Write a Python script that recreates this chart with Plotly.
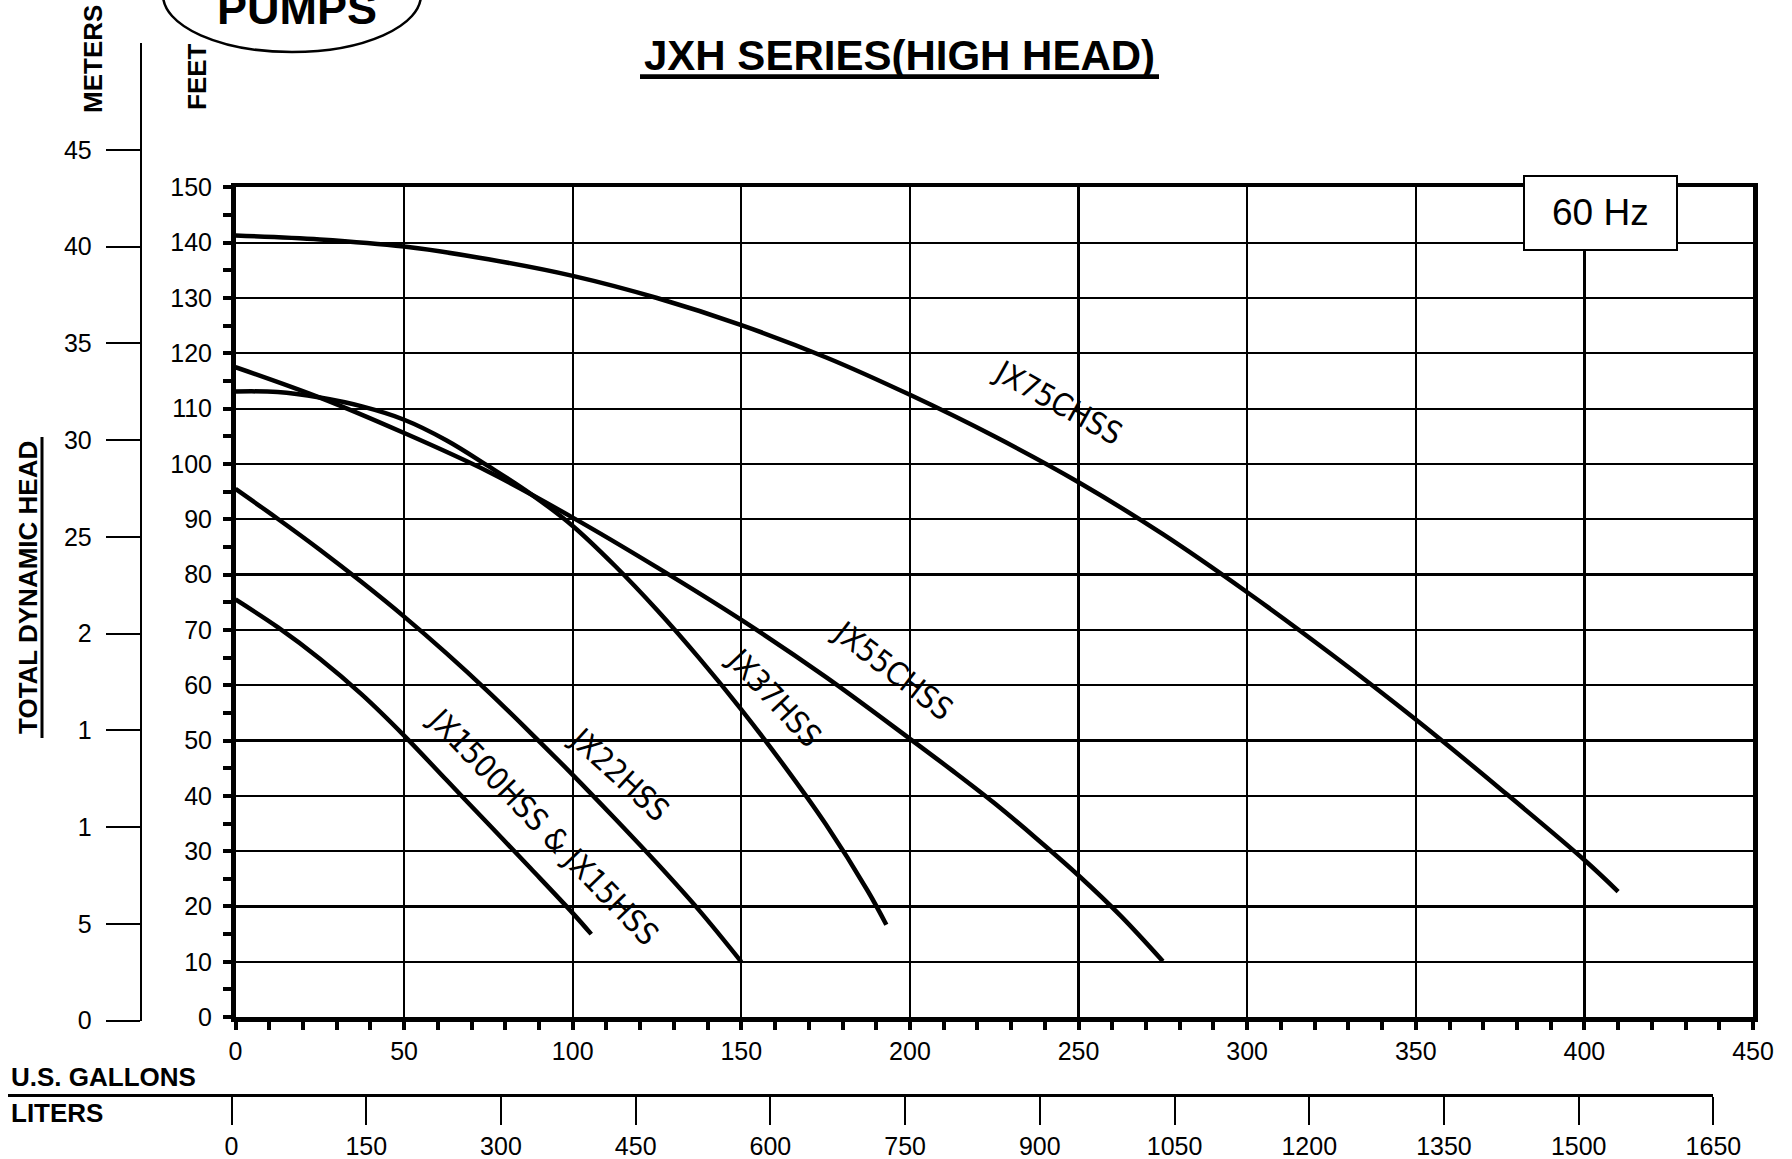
import plotly.graph_objects as go

W, H = 1792, 1159

# ---------------- data (U.S. gallons per minute vs. feet of head) ----------------
jx75_gpm = [0, 25, 50, 75, 100, 125, 150, 175, 200, 225, 250, 275, 300, 325, 350, 375, 400, 410]
jx75_ft = [141.3, 140.6, 139.3, 137.0, 134.0, 130.0, 125.1, 119.3, 112.5, 105.0, 96.7, 87.3, 76.8, 65.6, 53.8, 41.3, 28.4, 22.7]

jx55_gpm = [0, 25, 50, 75, 100, 125, 150, 175, 200, 212.5, 225, 237.5, 250, 262.5, 275]
jx55_ft = [117.5, 112.0, 105.6, 98.6, 90.3, 81.3, 71.8, 61.5, 50.3, 44.6, 38.7, 32.3, 25.6, 18.3, 10.1]

jx37_gpm = [0, 12.5, 25, 37.5, 50, 62.5, 75, 87.5, 100, 112.5, 125, 137.5, 150, 162.5, 175, 187.5, 193]
jx37_ft = [113.1, 113.0, 112.0, 110.4, 108.0, 104.3, 99.6, 94.6, 88.8, 81.6, 73.6, 64.9, 55.6, 45.6, 34.9, 22.8, 16.7]

jx22_gpm = [0, 12.5, 25, 37.5, 50, 62.5, 75, 87.5, 100, 112.5, 125, 137.5, 150]
jx22_ft = [95.5, 90.1, 84.5, 78.6, 72.4, 65.8, 58.8, 51.4, 43.8, 35.9, 27.8, 19.3, 10.0]

jx15_gpm = [0, 12.5, 25, 37.5, 50, 62.5, 75, 87.5, 100, 105.5]
jx15_ft = [75.5, 70.5, 64.8, 58.3, 50.9, 42.9, 34.9, 26.9, 18.8, 15.0]

series_names = ["JX75CHSS", "JX55CHSS", "JX37HSS", "JX22HSS", "JX1500HSS & JX15HSS"]

gallon_range = [0, 450]
feet_range = [0, 150]
meter_ticks = [0, 5, 10, 15, 20, 25, 30, 35, 40, 45]
meter_labels = ["0", "5", "1", "1", "2", "25", "30", "35", "40", "45"]
liter_ticks = [0, 150, 300, 450, 600, 750, 900, 1050, 1200, 1350, 1500, 1650]


def px(x):
    return x / W


def py(y):
    return 1 - y / H


FONT = "Liberation Sans, Arial, sans-serif"
NARROW = "Liberation Sans Narrow, Arial Narrow, DejaVu Sans Condensed, sans-serif"

fig = go.Figure()

curves = [
    (jx75_gpm, jx75_ft),
    (jx55_gpm, jx55_ft),
    (jx37_gpm, jx37_ft),
    (jx22_gpm, jx22_ft),
    (jx15_gpm, jx15_ft),
]
for name, (gx, fy) in zip(series_names, curves):
    fig.add_trace(go.Scatter(
        x=gx, y=fy, name=name, mode="lines", xaxis="x", yaxis="y",
        line=dict(color="black", width=4.5, shape="spline", smoothing=1.0),
        hoverinfo="skip", showlegend=False,
    ))

# invisible helper traces so the meters and liters scales are drawn
fig.add_trace(go.Scatter(
    x=[0, 0], y=[meter_ticks[0], meter_ticks[-1]], xaxis="x3", yaxis="y2",
    mode="markers", marker=dict(opacity=0), hoverinfo="skip", showlegend=False,
))
fig.add_trace(go.Scatter(
    x=[liter_ticks[0], liter_ticks[-1]], y=[0, 0], xaxis="x2", yaxis="y3",
    mode="markers", marker=dict(opacity=0), hoverinfo="skip", showlegend=False,
))

tickfont = dict(family=FONT, size=25, color="black")

fig.update_layout(
    width=W, height=H,
    margin=dict(l=0, r=0, t=0, b=0, pad=0),
    paper_bgcolor="white", plot_bgcolor="white",
    showlegend=False,
    xaxis=dict(
        domain=[px(235.5), px(1753)], range=gallon_range, anchor="y",
        tickmode="linear", tick0=0, dtick=50,
        ticks="outside", ticklen=8, tickwidth=4, tickcolor="black",
        minor=dict(tickmode="linear", tick0=0, dtick=10, ticks="outside", ticklen=8, tickwidth=4,
                   tickcolor="black", showgrid=False),
        showgrid=True, gridcolor="black", gridwidth=2.3,
        showline=True, linecolor="black", linewidth=4.5, mirror=True,
        zeroline=False, tickfont=tickfont,
        automargin=False, fixedrange=True,
    ),
    yaxis=dict(
        domain=[py(1017.1), py(187.4)], range=feet_range, anchor="x",
        tickmode="linear", tick0=0, dtick=10,
        ticks="outside", ticklen=8, tickwidth=4, tickcolor="black",
        minor=dict(tickmode="linear", tick0=0, dtick=5, ticks="outside", ticklen=8, tickwidth=4,
                   tickcolor="black", showgrid=False),
        showgrid=True, gridcolor="black", gridwidth=2.3,
        showline=True, linecolor="black", linewidth=4.5, mirror=True,
        zeroline=False, tickfont=tickfont, ticklabelstandoff=6,
        automargin=False, fixedrange=True,
    ),
    # meters scale
    yaxis2=dict(
        domain=[py(1020.6), py(43.4)], range=[0, 50.5], anchor="x3", side="left",
        tickmode="array", tickvals=meter_ticks, ticktext=meter_labels,
        ticks="outside", ticklen=34, tickwidth=2, tickcolor="black",
        showgrid=False, showline=True, linecolor="black", linewidth=2,
        zeroline=False, tickfont=tickfont, ticklabelstandoff=9,
        automargin=False, fixedrange=True,
    ),
    xaxis3=dict(domain=[px(141.7), px(142.7)], range=[0, 1], anchor="y2", visible=False, fixedrange=True),
    # liters scale
    xaxis2=dict(
        domain=[px(8), px(1713.4)], range=[-248.9, 1650], anchor="y3", side="bottom",
        tickmode="array", tickvals=liter_ticks,
        ticks="outside", ticklen=28, tickwidth=2, tickcolor="black",
        showgrid=False, showline=True, linecolor="black", linewidth=2.5,
        zeroline=False, tickfont=tickfont,
        automargin=False, fixedrange=True,
    ),
    yaxis3=dict(domain=[py(1094), py(1093)], range=[0, 1], anchor="x2", visible=False, fixedrange=True),
)

bold26 = dict(family=FONT, size=26, color="black")
annotations = [
    dict(text="<b>JXH SERIES(HIGH HEAD)</b>", x=px(899.5), y=py(56), font=dict(family=FONT, size=42, color="black")),
    dict(text="<b>PUMPS</b>", x=px(297), y=py(9), font=dict(family=FONT, size=45, color="black")),
    dict(text="<b>METERS</b>", x=px(93), y=py(59), textangle=-90, font=bold26),
    dict(text="<b>FEET</b>", x=px(197), y=py(77), textangle=-90, font=bold26),
    dict(text="<b>TOTAL DYNAMIC HEAD</b>", x=px(27.5), y=py(587.5), textangle=-90, font=bold26),
    dict(text="<b>U.S. GALLONS</b>", x=px(9), y=py(1077), xanchor="left", font=bold26),
    dict(text="<b>LITERS</b>", x=px(9), y=py(1113), xanchor="left", font=bold26),
    dict(text="60 Hz", x=px(1600.5), y=py(213), font=dict(family=FONT, size=37, color="black")),
]
label_specs = [
    ("JX75CHSS", 1058, 402, 29),
    ("JX55CHSS", 893, 670, 37.5),
    ("JX37HSS", 774, 697, 47),
    ("JX22HSS", 619.5, 774, 42.5),
    ("JX1500HSS & JX15HSS", 543, 826, 46),
]
for txt, cx, cy, ang in label_specs:
    annotations.append(dict(text=txt, x=px(cx), y=py(cy), textangle=ang,
                            font=dict(family=NARROW, size=31, color="black")))
for a in annotations:
    a.setdefault("xanchor", "center")
    a.update(xref="paper", yref="paper", yanchor="middle", showarrow=False)
fig.update_layout(annotations=annotations)

shapes = [
    # title underline
    dict(type="line", x0=px(640), x1=px(1159), y0=py(76.6), y1=py(76.6), line=dict(color="black", width=4.6)),
    # TOTAL DYNAMIC HEAD underline
    dict(type="line", x0=px(42), x1=px(42), y0=py(437), y1=py(738), line=dict(color="black", width=3)),
    # logo oval (cut off by top edge)
    dict(type="circle", x0=px(163), x1=px(421), y0=py(52), y1=py(-62), line=dict(color="black", width=2.5)),
    # 60 Hz box
    dict(type="rect", x0=px(1524), x1=px(1677), y0=py(250), y1=py(176), fillcolor="white",
         line=dict(color="black", width=2), layer="above"),
]
for s in shapes:
    s.update(xref="paper", yref="paper")
fig.update_layout(shapes=shapes)

fig.write_html(
    "out.html",
    config={"displayModeBar": False, "staticPlot": True},
    post_script="document.body.style.margin='0px';document.body.style.padding='0px';"
                "document.documentElement.style.overflow='hidden';",
)
